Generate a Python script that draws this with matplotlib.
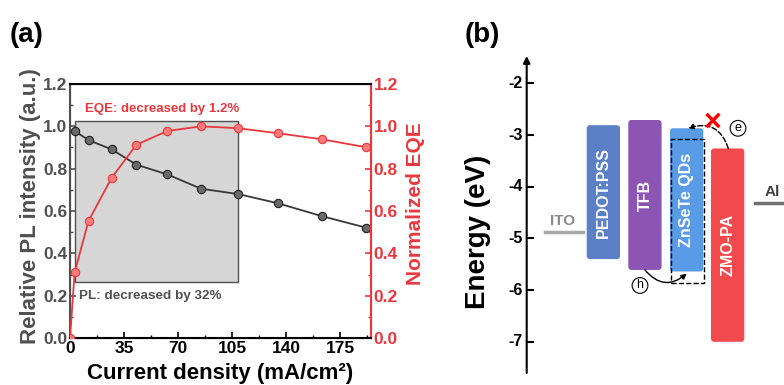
import numpy as np
import matplotlib.pyplot as plt
from matplotlib.patches import Rectangle, FancyBboxPatch, FancyArrowPatch
from matplotlib.ticker import MultipleLocator

plt.rcParams['font.family'] = ['Liberation Sans', 'DejaVu Sans']
plt.rcParams['font.weight'] = 'bold'
plt.rcParams['axes.labelweight'] = 'bold'

# ---- (a) PL / EQE vs current density ----
pl_j = [3, 12, 27, 43, 63, 85, 109, 135, 163, 192]
pl_val = [0.978, 0.935, 0.891, 0.819, 0.773, 0.705, 0.680, 0.636, 0.576, 0.521]
eqe_j = [0, 3, 12, 27, 43, 63, 85, 109, 135, 163, 192]
eqe_val = [0.0, 0.310, 0.553, 0.757, 0.913, 0.978, 1.0, 0.991, 0.967, 0.939, 0.901]
x_ticks = [0, 35, 70, 105, 140, 175]

# ---- (b) energy levels ----
layers = ['PEDOT:PSS', 'TFB', 'ZnSeTe QDs', 'ZMO-PA']
lumo = [-2.81, -2.71, -2.87, -3.26]
homo = [-5.40, -5.61, -5.64, -7.00]
layer_colors = ['#5b80c8', '#8d55b3', '#5a9be6', '#f24a4c']
ito_level = -4.88
al_level = -4.31
e_ticks = [-2, -3, -4, -5, -6, -7]

gray = '#505050'
red = '#e8383d'

fig = plt.figure(figsize=(7.84, 3.85), dpi=100)

ax = fig.add_axes([70 / 784, 1 - 338 / 385, 301 / 784, 254 / 385])
ax2 = ax.twinx()

ax.add_patch(Rectangle((3, 0.266), 106, 0.761, facecolor='#d6d6d6',
                       edgecolor='#505050', lw=1.0, zorder=0))
ax.plot(pl_j, pl_val, '-', color='#383838', lw=1.3, marker='o', ms=6,
        mfc='#6a6a6a', mec='#202020', mew=0.8, zorder=3)
ax2.plot(eqe_j, eqe_val, '-', color=red, lw=1.3, marker='o', ms=6,
         mfc='#ff7a7a', mec=red, mew=0.8, zorder=3)

ax.set_xlim(0, 195)
ax.set_ylim(0, 1.2)
ax2.set_ylim(0, 1.2)
ax.set_xticks(x_ticks)
ax.xaxis.set_minor_locator(MultipleLocator(17.5))
ax.yaxis.set_major_locator(MultipleLocator(0.2))
ax.yaxis.set_minor_locator(MultipleLocator(0.1))
ax2.yaxis.set_major_locator(MultipleLocator(0.2))
ax2.yaxis.set_minor_locator(MultipleLocator(0.1))
ax.yaxis.set_major_formatter(plt.FormatStrFormatter('%.1f'))
ax2.yaxis.set_major_formatter(plt.FormatStrFormatter('%.1f'))

ax.tick_params(axis='x', which='both', direction='in', labelsize=12.5,
               pad=2, colors='black')
ax.tick_params(axis='x', which='major', length=4, width=1.2)
ax.tick_params(axis='x', which='minor', length=2, width=1.0)
ax.tick_params(axis='y', which='both', direction='in', labelsize=12.5,
               colors=gray, pad=2)
ax.tick_params(axis='y', which='major', length=4, width=1.2)
ax.tick_params(axis='y', which='minor', length=2, width=1.0)
ax2.tick_params(axis='y', which='both', direction='in', labelsize=12.5,
                colors=red, pad=2)
ax2.tick_params(axis='y', which='major', length=4, width=1.2)
ax2.tick_params(axis='y', which='minor', length=2, width=1.0)

for side in ['top', 'bottom']:
    ax2.spines[side].set_color('black')
    ax2.spines[side].set_linewidth(1.5)
ax2.spines['left'].set_color(gray)
ax2.spines['left'].set_linewidth(1.5)
ax2.spines['right'].set_color(red)
ax2.spines['right'].set_linewidth(1.5)

ax.set_xlabel('Current density (mA/cm²)', fontsize=16)
ax.xaxis.set_label_coords(0.5, -0.1)
ax.set_ylabel('Relative PL intensity (a.u.)', fontsize=16, color=gray)
ax.yaxis.set_label_coords(-0.095, 0.52)
ax2.set_ylabel('Normalized EQE', fontsize=15, color=red)
ax2.yaxis.set_label_coords(1.115, 0.53)

ax.text(10, 1.08, 'EQE: decreased by 1.2%', color=red, fontsize=9.5,
        ha='left', va='center')
ax.text(6, 0.20, 'PL: decreased by 32%', color=gray, fontsize=9.7,
        ha='left', va='center')

fig.text(10 / 784, 1 - 35 / 385, '(a)', fontsize=20, va='center')
fig.text(465 / 784, 1 - 35 / 385, '(b)', fontsize=20, va='center')

# ---- (b) band diagram, x in figure pixels ----
bx = fig.add_axes([500 / 784, 1 - 373 / 385, 284 / 784, 317 / 385])
bx.set_xlim(500, 784)
bx.set_ylim(-7.603, -1.472)
bx.axis('off')

ax_x = 526.7
bx.annotate('', xy=(ax_x, -1.472), xytext=(ax_x, -7.603),
            arrowprops=dict(arrowstyle='-|>', color='black', lw=1.5,
                            mutation_scale=10, shrinkA=0, shrinkB=0))
for t in e_ticks:
    bx.plot([ax_x, ax_x + 6.5], [t, t], color='black', lw=1.5)
    bx.text(ax_x - 4, t, str(t), ha='right', va='center', fontsize=11.5)
fig.text(478 / 784, 1 - 232 / 385, 'Energy (eV)', rotation=90, fontsize=20,
         ha='center', va='center')

bar_x = [586.7, 628.3, 670.0, 711.0]
bar_w = 33.3
for name, top, bot, c, x0 in zip(layers, lumo, homo, layer_colors, bar_x):
    bx.add_patch(FancyBboxPatch((x0, bot), bar_w, top - bot,
                                boxstyle='round,pad=0,rounding_size=3',
                                mutation_aspect=0.02,
                                facecolor=c, edgecolor='none', zorder=2))
    bx.text(x0 + bar_w / 2, (top + bot) / 2, name, rotation=90, color='white',
            fontsize=11.5, ha='center', va='center', zorder=3)

# dashed outline around the QD layer
bx.add_patch(Rectangle((670.5, -5.87), 33, 2.79, fill=False, ls='--',
                       lw=1.0, edgecolor='black', zorder=4))

# electrodes
bx.plot([545, 582.7], [ito_level, ito_level], color='#a8a8a8', lw=2.5)
bx.text(563, ito_level + 0.08, 'ITO', color='#8a8a8a', fontsize=11,
        ha='center', va='bottom')
bx.plot([755, 790], [al_level, al_level], color='#707070', lw=2.5,
        clip_on=False)
bx.text(765, al_level + 0.08, 'Al', color='#404040', fontsize=11,
        ha='left', va='bottom')

# electron path blocked by ZMO-PA
bx.add_patch(FancyArrowPatch((728.3, -3.26), (688.3, -2.87),
                             connectionstyle='arc3,rad=0.5', arrowstyle='-|>',
                             mutation_scale=8, ls='--', lw=1.0, color='black',
                             shrinkA=0, shrinkB=0, zorder=5))
bx.text(713, -2.76, '×', color='red', fontsize=22, ha='center',
        va='center', zorder=6)
bx.text(738, -2.87, 'e', fontsize=9, ha='center', va='center',
        fontweight='normal',
        bbox=dict(boxstyle='circle,pad=0.15', fc='white', ec='black', lw=0.8))

# hole injection
bx.add_patch(FancyArrowPatch((645, -5.61), (686.7, -5.68),
                             connectionstyle='arc3,rad=0.5', arrowstyle='-|>',
                             mutation_scale=8, lw=1.0, color='black',
                             shrinkA=0, shrinkB=0, zorder=5))
bx.text(640, -5.91, 'h', fontsize=9, ha='center', va='center',
        fontweight='normal',
        bbox=dict(boxstyle='circle,pad=0.15', fc='white', ec='black', lw=0.8))

fig.savefig('out.png', dpi=100)
